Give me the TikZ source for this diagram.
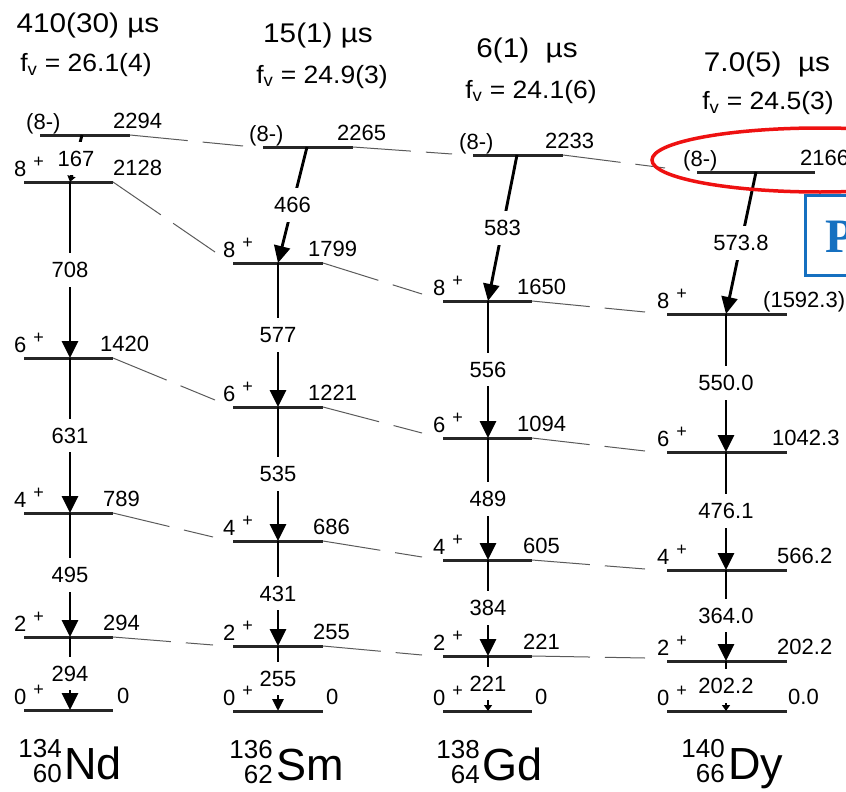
\documentclass[tikz,border=0pt]{standalone}
\usepackage{fontspec}
\setmainfont{Liberation Sans}
\newfontfamily\serifbold{Liberation Serif}
\usetikzlibrary{arrows.meta}
\definecolor{levgray}{HTML}{262626}
\definecolor{dashgray}{HTML}{5A5A5A}
\definecolor{pblue}{HTML}{1570C0}
\definecolor{ellred}{HTML}{EE1111}
\tikzset{
  lev/.style={draw=levgray, line width=3pt},
  trans/.style={draw=black, line width=2.9pt, -{Triangle[length=17pt,width=16pt]}},
  transm/.style={draw=black, line width=2.9pt, -{Triangle[length=12pt,width=11pt]}},
  transs/.style={draw=black, line width=2.9pt, -{Triangle[length=6pt,width=8pt]}},
  conn/.style={draw=dashgray, line width=1pt, dash pattern=on 58pt off 15pt},
  lbl/.style={inner sep=0pt, font=\fontsize{22}{22}\selectfont},
  tlbl/.style={lbl, fill=white, inner xsep=2pt, inner ysep=9pt},
  hdr/.style={inner sep=0pt, font=\fontsize{27}{27}\selectfont, anchor=base, xscale=1.1},
  fvl/.style={inner sep=0pt, font=\fontsize{25}{25}\selectfont, anchor=base, xscale=1.06},
  massn/.style={inner sep=0pt, font=\fontsize{26}{26}\selectfont, anchor=base east},
  elem/.style={inner sep=0pt, font=\fontsize{45}{45}\selectfont, anchor=base west},
}
\newcommand\mklev[5]{%
  \coordinate (#1-l) at (#2,#4);
  \coordinate (#1-r) at (#3,#4);
  \coordinate (#1-t) at (#5,#4);
  \draw[lev] (#1-l) -- (#1-r);}
\newcommand\spinlab[2]{\node[lbl, anchor=base west] (#1-s) at ([xshift=-10pt,yshift=6pt]#1-l) {#2\hspace{7pt}\raisebox{9pt}{\fontsize{18}{18}\selectfont +}};}
\newcommand\oddlab[1]{\node[lbl, anchor=base west] (#1-s) at ([xshift=-14pt,yshift=6pt]#1-l) {(8-)};}
\newcommand\enlab[4]{\node[lbl, anchor=base west] (#1-e) at (#2,{#3-7}) {#4};}
\begin{document}
\begin{tikzpicture}[x=1pt,y=-1pt]
\useasboundingbox (0,0) rectangle (846,792);
\clip (0,0) rectangle (846,792);
% ---------- levels ----------
\mklev{Nd8m}{40}{130}{135}{82}
\mklev{Nd8}{24}{113}{182}{70}
\mklev{Nd6}{24}{113}{358}{70}
\mklev{Nd4}{24}{113}{513}{70}
\mklev{Nd2}{24}{113}{637}{70}
\mklev{Nd0}{24}{113}{710}{70}
\mklev{Sm8m}{263}{353}{147}{307}
\mklev{Sm8}{233}{323}{263}{278}
\mklev{Sm6}{233}{323}{407}{278}
\mklev{Sm4}{233}{323}{541}{278}
\mklev{Sm2}{233}{323}{646}{278}
\mklev{Sm0}{233}{323}{711}{278}
\mklev{Gd8m}{473}{563}{155}{517}
\mklev{Gd8}{443}{532}{301}{488}
\mklev{Gd6}{443}{532}{438}{488}
\mklev{Gd4}{443}{532}{560}{488}
\mklev{Gd2}{443}{532}{656}{488}
\mklev{Gd0}{443}{532}{711}{488}
\mklev{Dy8m}{697}{815}{172}{756}
\mklev{Dy8}{667}{787}{314}{726}
\mklev{Dy6}{667}{787}{452}{726}
\mklev{Dy4}{667}{787}{570}{726}
\mklev{Dy2}{667}{787}{661}{726}
\mklev{Dy0}{667}{787}{711}{726}
% ---------- dashed connectors ----------
\coordinate (eSm8m) at (243,146);
\coordinate (eSm8) at (215,252);
\coordinate (eSm6) at (215,400);
\coordinate (eSm4) at (213,537);
\coordinate (eSm2) at (213,645);
\coordinate (eGd8m) at (452,154);
\coordinate (eGd8) at (422,294);
\coordinate (eGd6) at (422,433);
\coordinate (eGd4) at (422,557);
\coordinate (eGd2) at (422,655);
\coordinate (eDy8m) at (665,168);
\coordinate (eDy8) at (645,312);
\coordinate (eDy6) at (645,451);
\coordinate (eDy4) at (645,569);
\coordinate (eDy2) at (645,658);
\foreach \a/\b in {Nd/Sm,Sm/Gd,Gd/Dy}{
  \foreach \k in {8m,8,6,4,2}{
    \draw[conn] (\a\k-r) -- (e\b\k);
  }
}
% ---------- transitions ----------
\draw[transs] (Nd8m-t) -- (Nd8-t) node[tlbl, pos=.5] (gNd167) {167};
\draw[trans] (Nd8-t) -- (Nd6-t) node[tlbl, pos=.5] (gNd708) {708};
\draw[trans] (Nd6-t) -- (Nd4-t) node[tlbl, pos=.5] (gNd631) {631};
\draw[trans] (Nd4-t) -- (Nd2-t) node[tlbl, pos=.5] (gNd495) {495};
\draw[trans] (Nd2-t) -- (Nd0-t) node[tlbl, pos=.5] (gNd294) {294};
\draw[trans] (Sm8m-t) -- (Sm8-t) node[tlbl, pos=.5] (gSm466) {466};
\draw[trans] (Sm8-t) -- (Sm6-t) node[tlbl, pos=.5] (gSm577) {577};
\draw[trans] (Sm6-t) -- (Sm4-t) node[tlbl, pos=.5] (gSm535) {535};
\draw[trans] (Sm4-t) -- (Sm2-t) node[tlbl, pos=.5] (gSm431) {431};
\draw[transm] (Sm2-t) -- (Sm0-t) node[tlbl, pos=.5] (gSm255) {255};
\draw[trans] (Gd8m-t) -- (Gd8-t) node[tlbl, pos=.5] (gGd583) {583};
\draw[trans] (Gd8-t) -- (Gd6-t) node[tlbl, pos=.5] (gGd556) {556};
\draw[trans] (Gd6-t) -- (Gd4-t) node[tlbl, pos=.5] (gGd489) {489};
\draw[trans] (Gd4-t) -- (Gd2-t) node[tlbl, pos=.5] (gGd384) {384};
\draw[transs] (Gd2-t) -- (Gd0-t) node[tlbl, pos=.5] (gGd221) {221};
\draw[trans] (Dy8m-t) -- (Dy8-t) node[tlbl, pos=.5] (gDy573) {573.8};
\draw[trans] (Dy8-t) -- (Dy6-t) node[tlbl, pos=.5] (gDy550) {550.0};
\draw[trans] (Dy6-t) -- (Dy4-t) node[tlbl, pos=.5] (gDy476) {476.1};
\draw[trans] (Dy4-t) -- (Dy2-t) node[tlbl, pos=.5] (gDy364) {364.0};
\draw[transs] (Dy2-t) -- (Dy0-t) node[tlbl, pos=.5] (gDy202) {202.2};
% ---------- spin labels ----------
\foreach \n in {Nd,Sm,Gd,Dy}{
  \oddlab{\n8m}
  \spinlab{\n8}{8}
  \spinlab{\n6}{6}
  \spinlab{\n4}{4}
  \spinlab{\n2}{2}
  \spinlab{\n0}{0}
}
% ---------- energy labels ----------
\enlab{Nd8m}{113}{135}{2294}
\enlab{Nd8}{113}{182}{2128}
\enlab{Nd6}{100}{358}{1420}
\enlab{Nd4}{103}{513}{789}
\enlab{Nd2}{103}{637}{294}
\enlab{Nd0}{117}{710}{0}
\enlab{Sm8m}{337}{147}{2265}
\enlab{Sm8}{308}{263}{1799}
\enlab{Sm6}{308}{407}{1221}
\enlab{Sm4}{313}{541}{686}
\enlab{Sm2}{313}{646}{255}
\enlab{Sm0}{326}{711}{0}
\enlab{Gd8m}{545}{155}{2233}
\enlab{Gd8}{517}{301}{1650}
\enlab{Gd6}{517}{438}{1094}
\enlab{Gd4}{523}{560}{605}
\enlab{Gd2}{523}{656}{221}
\enlab{Gd0}{535}{711}{0}
\enlab{Dy8m}{800}{172}{2166}
\enlab{Dy8}{763}{314}{(1592.3)}
\enlab{Dy6}{772}{452}{1042.3}
\enlab{Dy4}{777}{570}{566.2}
\enlab{Dy2}{777}{661}{202.2}
\enlab{Dy0}{788}{711}{0.0}
% ---------- headers ----------
\node[hdr] (hNd) at (88,33) {410(30) µs};
\node[fvl] (fNd) at (86,72) {f\textsubscript{v} = 26.1(4)};
\node[hdr] (hSm) at (318,43) {15(1) µs};
\node[fvl] (fSm) at (322,83) {f\textsubscript{v} = 24.9(3)};
\node[hdr] (hGd) at (527,58) {6(1)\ \ µs};
\node[fvl] (fGd) at (531,98) {f\textsubscript{v} = 24.1(6)};
\node[hdr] (hDy) at (767,72) {7.0(5)\ \ µs};
\node[fvl] (fDy) at (768,110) {f\textsubscript{v} = 24.5(3)};
% ---------- nuclide names ----------
\node[massn] (aNd) at (62,757) {134};
\node[massn] (zNd) at (62,782) {60};
\node[elem] (eNd) at (64,779) {Nd};
\node[massn] (aSm) at (273,758) {136};
\node[massn] (zSm) at (273,783) {62};
\node[elem] (eSm) at (276,780) {Sm};
\node[massn] (aGd) at (480,758) {138};
\node[massn] (zGd) at (480,783) {64};
\node[elem] (eGd) at (482,780) {Gd};
\node[massn] (aDy) at (725,757) {140};
\node[massn] (zDy) at (725,782) {66};
\node[elem] (eDy) at (728,779) {Dy};
% ---------- annotations ----------
\draw[pblue, line width=3pt] (805,195) rectangle (880,275);
\node[anchor=base west, inner sep=0pt, text=pblue, font=\serifbold\bfseries\fontsize{48}{48}\selectfont] (pP) at (825,252) {P};
\draw[ellred, line width=3.5pt] (820,160) ellipse [x radius=168pt, y radius=32pt];
\end{tikzpicture}
\end{document}
